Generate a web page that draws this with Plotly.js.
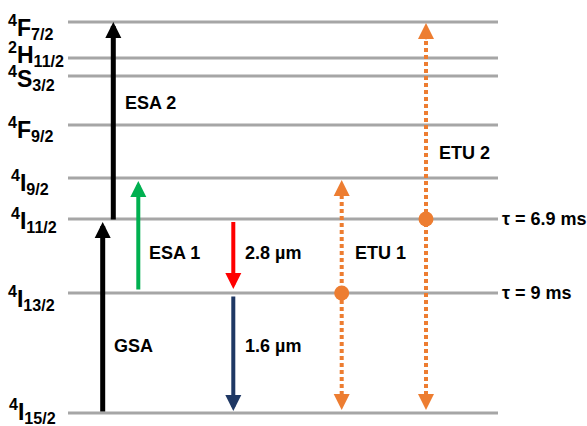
<!DOCTYPE html>
<html>
<head>
<meta charset="utf-8">
<script src="https://cdn.plot.ly/plotly-3.0.1.min.js"></script>
<style>html,body{margin:0;padding:0;background:#fff;}#chart{width:587px;height:426px;}</style>
</head>
<body>
<div id="chart"></div>
<script>
// ---- Data (energy in diagram units, ground state = 0) ----
const levelNames  = ['4I15/2', '4I13/2', '4I11/2', '4I9/2', '4F9/2', '4S3/2', '2H11/2', '4F7/2'];
const levelLabels = ['<sup>4</sup>I<sub>15/2</sub>', '<sup>4</sup>I<sub>13/2</sub>', '<sup>4</sup>I<sub>11/2</sub>',
                     '<sup>4</sup>I<sub>9/2</sub>', '<sup>4</sup>F<sub>9/2</sub>', '<sup>4</sup>S<sub>3/2</sub>',
                     '<sup>2</sup>H<sub>11/2</sub>', '<sup>4</sup>F<sub>7/2</sub>'];
const levelEnergy = [0, 120, 194, 235, 288, 337, 355, 391];

// radiative / absorption transitions
const transNames = ['GSA', 'ESA 2', 'ESA 1', '2.8 µm', '1.6 µm'];
const transFrom  = ['4I15/2', '4I11/2', '4I13/2', '4I11/2', '4I13/2'];
const transTo    = ['4I11/2', '4F7/2', '4I9/2', '4I13/2', '4I15/2'];

// energy transfer upconversion
const etuNames = ['ETU 1', 'ETU 2'];
const etuLevel = ['4I13/2', '4I11/2'];
const etuUp    = ['4I9/2', '4F7/2'];
const etuDown  = ['4I15/2', '4I15/2'];

// lifetimes
const lifeLevels = ['4I11/2', '4I13/2'];
const lifeLabels = ['τ = 6.9 ms', 'τ = 9 ms'];

// ---- Layout / style constants ----
const E = name => levelEnergy[levelNames.indexOf(name)];
const FONT = 'Liberation Sans, Arial, sans-serif';
const LINE_X0 = 68, LINE_X1 = 498;
const HEAD = 16;
const labelYShift = [2, -5, -1, -4, -4, -2, 4, -5];
const labelXShift = [1, 0, 3, 3, 0, 0, 0, 0];
const transStyle = [
  {x: 102.7, color: '#000000', w: 5, so: 3, lx: 112, ly: 67},
  {x: 113.3, color: '#000000', w: 5, so: 0, lx: 123, ly: 310},
  {x: 138.3, color: '#00B050', w: 4, so: 3, lx: 147, ly: 160},
  {x: 233.3, color: '#FF0000', w: 4, so: 4, lx: 243, ly: 160},
  {x: 233.3, color: '#1F3864', w: 4, so: 2, lx: 243, ly: 67}
];
const tailOffset = [0, -2, 2, -1.5, -2];
const etuStyle = [
  {x: 341.7, soUp: 2, soDown: 3, lx: 353, ly: 160.5},
  {x: 426.0, soUp: 1, soDown: 3, lx: 437, ly: 260}
];
const ORANGE = '#ED7D31';

// ---- Traces ----
const lx = [], ly = [];
levelEnergy.forEach(e => { lx.push(LINE_X0, LINE_X1, null); ly.push(e, e, null); });
const traces = [{
  type: 'scatter', mode: 'lines', x: lx, y: ly,
  line: {color: '#A6A6A6', width: 3}, hoverinfo: 'skip', showlegend: false
}];

etuNames.forEach((n, i) => {
  const s = etuStyle[i];
  const top = E(etuUp[i]) - s.soUp - 8;
  const bot = E(etuDown[i]) + s.soDown + 8;
  traces.push({
    type: 'scatter', mode: 'lines', x: [s.x, s.x], y: [bot, top],
    line: {color: ORANGE, width: 4, dash: '4px,3px'}, hoverinfo: 'skip', showlegend: false
  });
});
traces.push({
  type: 'scatter', mode: 'markers',
  x: etuStyle.map(s => s.x), y: etuLevel.map(E),
  marker: {color: ORANGE, size: 15}, hoverinfo: 'skip', showlegend: false
});

// ---- Annotations ----
const ann = [];
levelNames.forEach((n, i) => {
  ann.push({
    x: 6, y: levelEnergy[i], xref: 'x', yref: 'y', xanchor: 'left', yanchor: 'middle',
    text: '<b>' + levelLabels[i] + '</b>', showarrow: false,
    yshift: labelYShift[i], xshift: labelXShift[i],
    font: {family: FONT, size: 23, color: '#000'}
  });
});
transNames.forEach((n, i) => {
  const s = transStyle[i];
  const tail = E(transFrom[i]) + tailOffset[i];
  ann.push({
    x: s.x, y: E(transTo[i]), ax: s.x, ay: tail,
    xref: 'x', yref: 'y', axref: 'x', ayref: 'y',
    text: '', showarrow: true, arrowhead: 2, arrowwidth: s.w, arrowsize: 3.2 / s.w,
    arrowcolor: s.color, standoff: s.so
  });
  ann.push({
    x: s.lx, y: s.ly, xref: 'x', yref: 'y', xanchor: 'left', yanchor: 'middle',
    text: '<b>' + n + '</b>', showarrow: false,
    font: {family: FONT, size: 18, color: '#000'}
  });
});
etuNames.forEach((n, i) => {
  const s = etuStyle[i];
  const up = E(etuUp[i]), dn = E(etuDown[i]);
  ann.push({
    x: s.x, y: up, ax: s.x, ay: up - s.soUp - HEAD - 2,
    xref: 'x', yref: 'y', axref: 'x', ayref: 'y',
    text: '', showarrow: true, arrowhead: 2, arrowwidth: 1, arrowsize: 3.2,
    arrowcolor: ORANGE, standoff: s.soUp
  });
  ann.push({
    x: s.x, y: dn, ax: s.x, ay: dn + s.soDown + HEAD + 2,
    xref: 'x', yref: 'y', axref: 'x', ayref: 'y',
    text: '', showarrow: true, arrowhead: 2, arrowwidth: 1, arrowsize: 3.2,
    arrowcolor: ORANGE, standoff: s.soDown
  });
  ann.push({
    x: s.lx, y: s.ly, xref: 'x', yref: 'y', xanchor: 'left', yanchor: 'middle',
    text: '<b>' + n + '</b>', showarrow: false,
    font: {family: FONT, size: 18, color: '#000'}
  });
});
lifeLevels.forEach((lv, i) => {
  ann.push({
    x: 500, y: E(lv), xref: 'x', yref: 'y', xanchor: 'left', yanchor: 'middle',
    text: '<b>' + lifeLabels[i] + '</b>', showarrow: false,
    font: {family: FONT, size: 18, color: '#000'}
  });
});

const layout = {
  width: 587, height: 426,
  margin: {l: 0, r: 0, t: 0, b: 0},
  paper_bgcolor: '#fff', plot_bgcolor: '#fff',
  xaxis: {range: [0, 587], visible: false, fixedrange: true},
  yaxis: {range: [-13, 413], visible: false, fixedrange: true},
  annotations: ann,
  showlegend: false
};

Plotly.newPlot('chart', traces, layout, {staticPlot: true, displayModeBar: false});
</script>
</body>
</html>
